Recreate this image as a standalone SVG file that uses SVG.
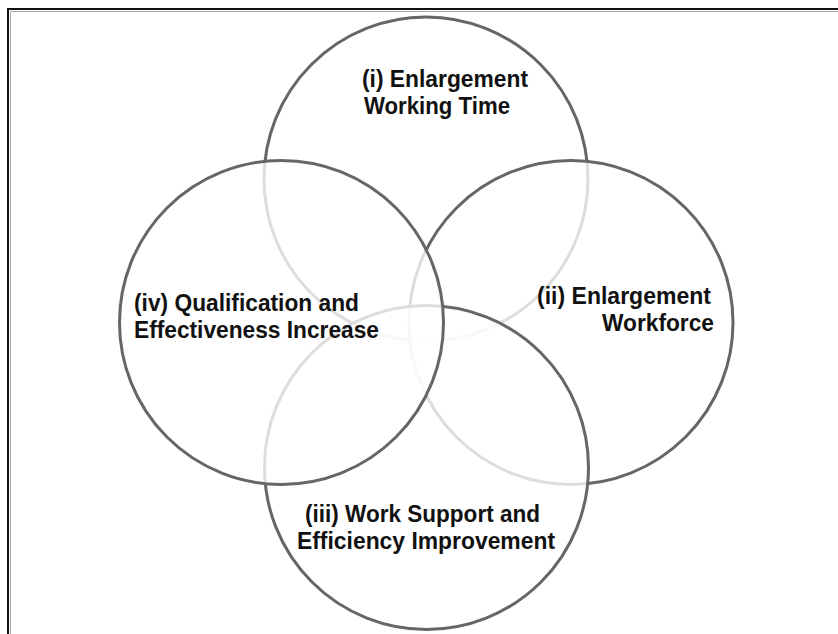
<svg xmlns="http://www.w3.org/2000/svg" width="838" height="634" viewBox="0 0 838 634">
  <style>
    .ring { fill: #ffffff; fill-opacity: 0.78; stroke: #666666; stroke-width: 3; }
    .label { font-family: "Liberation Sans", Arial, sans-serif; font-weight: bold; font-size: 23.5px; fill: #111111; }
  </style>
  <rect x="0" y="0" width="838" height="634" fill="#ffffff"/>
  <g id="frame" fill="none">
    <path d="M8,634 V9 H838" stroke="#111111" stroke-width="2"/>
    <path d="M10.5,634 V11.5 H838" stroke="#a8a8a8" stroke-width="1"/>
  </g>
  <g id="connectors"></g>
  <g id="node-i">
    <circle class="ring" cx="426" cy="179" r="162"/>
    <text class="label" x="362" y="87" textLength="166" lengthAdjust="spacingAndGlyphs">(i) Enlargement</text>
    <text class="label" x="364" y="114" textLength="146" lengthAdjust="spacingAndGlyphs">Working Time</text>
  </g>
  <g id="node-ii">
    <circle class="ring" cx="571" cy="322.5" r="162"/>
    <text class="label" x="537" y="304" textLength="174" lengthAdjust="spacingAndGlyphs">(ii) Enlargement</text>
    <text class="label" x="602" y="331" textLength="112" lengthAdjust="spacingAndGlyphs">Workforce</text>
  </g>
  <g id="node-iii">
    <circle class="ring" cx="426.5" cy="467.5" r="162"/>
    <text class="label" x="305" y="522" textLength="235" lengthAdjust="spacingAndGlyphs">(iii) Work Support and</text>
    <text class="label" x="297" y="549" textLength="258" lengthAdjust="spacingAndGlyphs">Efficiency Improvement</text>
  </g>
  <g id="node-iv">
    <circle class="ring" cx="281.5" cy="322.5" r="162"/>
    <text class="label" x="134" y="311" textLength="225" lengthAdjust="spacingAndGlyphs">(iv) Qualification and</text>
    <text class="label" x="134" y="338" textLength="245" lengthAdjust="spacingAndGlyphs">Effectiveness Increase</text>
  </g>
</svg>
